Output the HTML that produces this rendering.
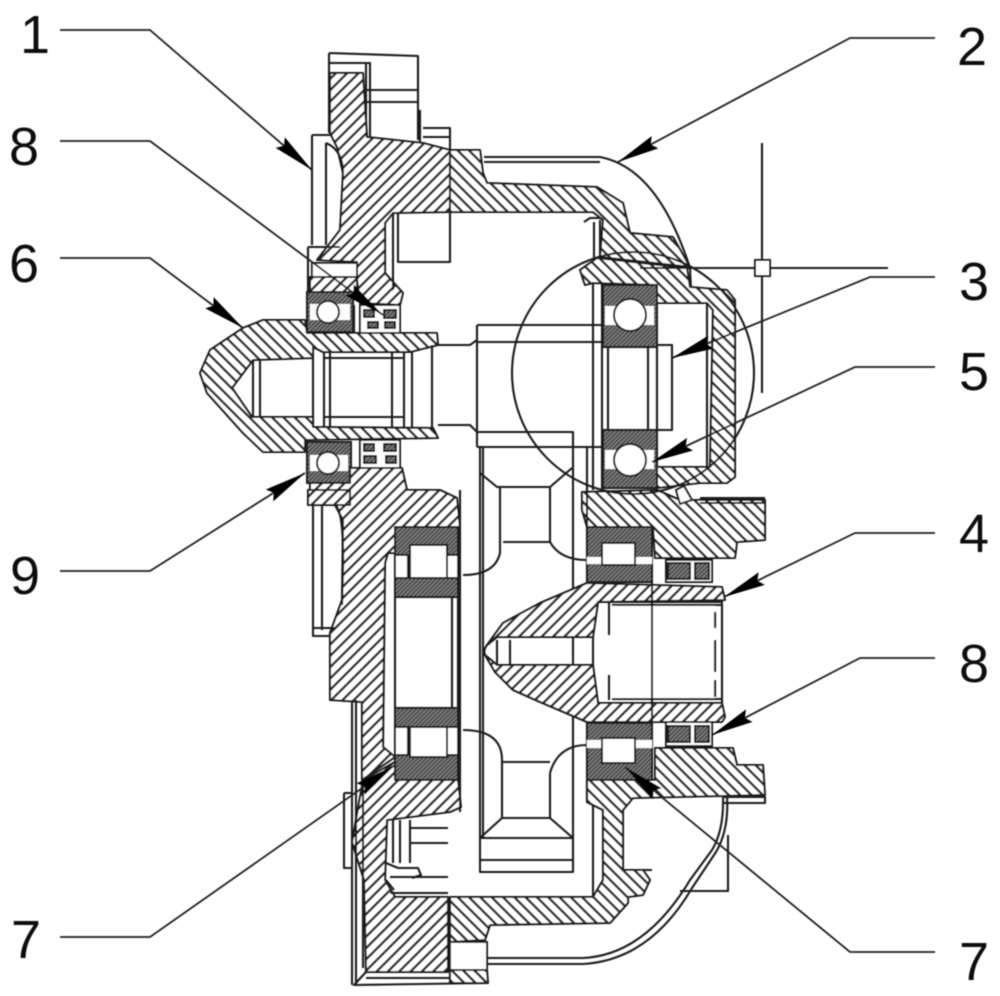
<!DOCTYPE html>
<html><head><meta charset="utf-8"><style>
html,body{margin:0;padding:0;background:#fff}
svg{display:block}
text{font-family:"Liberation Sans",sans-serif;font-size:54px;fill:#111}
.o{fill:none;stroke:#1c1c1c;stroke-width:2.1;stroke-linejoin:round}
.a{fill:url(#ha);stroke:#1c1c1c;stroke-width:2.1;stroke-linejoin:round}
.b{fill:url(#hb);stroke:#1c1c1c;stroke-width:2.1;stroke-linejoin:round}
.d{fill:url(#hd);stroke:#1c1c1c;stroke-width:2}
.w{fill:#fff;stroke:#1c1c1c;stroke-width:2}
.n{fill:#fff;stroke:none}
.l{fill:none;stroke:#222;stroke-width:1.8;marker-end:url(#ar)}
</style></head><body>
<svg width="1000" height="996" viewBox="0 0 1000 996" xmlns="http://www.w3.org/2000/svg">
<defs>
<pattern id="ha" width="8" height="8" patternUnits="userSpaceOnUse" patternTransform="rotate(45)"><rect width="8" height="8" fill="#fff"/><rect width="2.5" height="8" fill="#2a2a2a"/></pattern>
<pattern id="hb" width="8" height="8" patternUnits="userSpaceOnUse" patternTransform="rotate(-45)"><rect width="8" height="8" fill="#fff"/><rect width="2.5" height="8" fill="#2a2a2a"/></pattern>
<pattern id="hd" width="3" height="3" patternUnits="userSpaceOnUse" patternTransform="rotate(45)"><rect width="3" height="3" fill="#808080"/><rect width="1.4" height="3" fill="#3c3c3c"/></pattern>
<marker id="ar" markerUnits="userSpaceOnUse" markerWidth="46" markerHeight="20" refX="42" refY="10" orient="auto"><path d="M0,3 L42,10 L0,17 L5,10 Z" fill="#000"/></marker>
<filter id="bl" x="0" y="0" width="100%" height="100%"><feGaussianBlur stdDeviation="0.45"/></filter>
</defs>
<rect width="1000" height="996" fill="#fff"/>
<g filter="url(#bl)">
<!-- top box -->
<path class="o" d="M329,53 L418,56 L418,140 M329,53 L329,133 M329,63 L370,63 L370,137 M366,63 V137 M367,90 H418 M367,102 H418 M420,110 V143 M423,128 H450 V150 M423,137 H450"/>
<!-- upper housing -->
<path class="a" d="M330,73 L363,73 L367,137 L423,143 L450,150 L450,212 L393,213 L385,223 L385,273 L403,293 L400,305 L360,303 L357,280 L357,262 L317,260 L340,230 L343,173 L337,147 L330,133 Z"/>
<path class="o" d="M312,135 H330 M312,135 V245 M326,143 V245 M326,143 Q343,150 343,173 M393,213 V290 M398,213 V262 H450 V212 M308,247 H340 M308,247 V292"/>
<rect class="w" x="312" y="263" width="45" height="14"/>
<path class="a" d="M310,277 H357 V292 H310 Z"/>
<!-- upper band -->
<path class="b" d="M450,150 L480,150 L483,173 L487,183 L597,187 L623,203 L630,233 L673,237 L690,267 L600,257 L603,220 L593,212 L450,212 Z"/>
<path class="o" d="M484,157 H600 Q658,168 690,268 L691,290 M484,162 H600 M584,222 L590,218 H600 M594,222 V258 M600,220 V258"/>
<!-- bearing cap -->
<path class="b" d="M580,270 L597,258 L687,268 L690,287 L727,290 L735,300 L735,477 L727,483 L700,483 L657,488 L657,467 L710,467 L713,310 L707,303 L657,303 L657,285 L593,283 L585,285 Z"/>
<path class="o" d="M707,303 V467 M642,303 H707 M651,345 H672 V430 H651"/>
<!-- right upper flange -->
<path class="b" d="M582,492 L657,490 L680,500 L765,500 L765,540 L737,542 L735,558 L655,558 L653,527 L587,527 L582,510 Z"/>
<path class="w" d="M676,490 L684,486 L692,500 L680,504 Z"/>
<path class="o" d="M700,498 H765 M700,503 H765"/>
<!-- shaft 6 -->
<path class="b" d="M243,328 L263,320 L305,320 L307,333 L437,333 L438,345 L410,352 L323,352 L313,347 L313,358 L253,360 L232,388 L252,417 L313,417 L313,427 L433,428 L438,438 L305,440 L305,452 L263,452 L243,433 L207,393 L200,373 L210,350 Z"/>
<path class="o" d="M253,360 V417 M260,360 V417 M313,358 V427 M324,352 V428 M330,352 V428 M392,352 V428 M404,352 V428 M412,352 V428 M432,345 V428 M323,358 H404 M323,417 H404 M438,345 H470 L477,340 M438,425 H470 L477,432"/>
<!-- left bearings -->
<rect class="d" x="307" y="292" width="46" height="40"/><rect class="n" x="310" y="304" width="40" height="16"/><circle class="w" cx="328" cy="312" r="11"/>
<rect class="d" x="307" y="442" width="44" height="41"/><rect class="n" x="310" y="455" width="38" height="16"/><circle class="w" cx="328" cy="463" r="11"/>
<!-- seals -->
<rect class="w" x="360" y="305" width="40" height="28"/><rect class="d" x="364" y="310" width="10" height="7"/><rect class="d" x="384" y="310" width="12" height="8"/><rect class="d" x="368" y="322" width="10" height="6"/><rect class="d" x="385" y="322" width="10" height="6"/><path class="o" d="M354,305 V333"/>
<rect class="w" x="360" y="440" width="40" height="28"/><rect class="d" x="364" y="444" width="10" height="7"/><rect class="d" x="384" y="444" width="12" height="7"/><rect class="d" x="364" y="456" width="12" height="7"/><rect class="d" x="386" y="456" width="10" height="7"/>
<!-- lower left housing -->
<path class="a" d="M350,468 L402,468 L407,490 L440,490 L457,498 L460,527 L395,527 L395,553 L388,553 L385,563 L383,747 L395,757 L362,780 L362,702 L330,700 L330,633 L342,600 L343,520 L335,505 L310,505 L310,483 L350,483 Z"/>
<path class="a" d="M308,490 H350 V505 H308 Z"/>
<path class="o" d="M313,505 V636 H330 M322,505 V630 M313,628 H336 M336,505 Q344,515 343,570 L342,605"/>
<!-- lower housing -->
<path class="a" d="M363,780 L395,762 L395,780 L458,780 L461,807 L450,812 L387,820 L385,880 L395,897 L448,897 L448,972 L366,972 L364,880 L352,842 Z"/>
<!-- right lower flange -->
<path class="b" d="M587,780 L655,780 L655,748 L733,748 L737,765 L763,765 L765,795 L633,798 L623,810 L623,870 L643,870 L650,880 L643,895 L628,897 L628,903 L610,923 L490,925 L485,940 L450,942 L450,897 L593,897 L603,880 L603,810 L587,802 Z"/>
<path class="o" d="M724,797 H765 V803 H724 M628,870 H652 M593,805 V897 M393,820 V863 M400,820 V863 M410,820 V863 M410,828 H448 M410,843 H448 M390,877 H448 M390,893 H448 M386,863 L398,868 H418 L421,875 L412,878 M386,880 L394,890"/>
<!-- bottom -->
<rect class="w" x="450" y="942" width="37" height="28"/>
<path class="b" d="M450,970 H487 L488,983 H450 Z"/>
<path class="o" d="M366,972 L354,985 L488,983 M366,978 H450 M352,700 V985 M356,700 V985 M363,780 V968 M344,793 H352 M344,793 V868 H352"/>
<path class="o" d="M487,958 H583 Q645,955 690,880 L712,850 Q724,830 723,797 M487,964 H583 Q650,960 692,888 L716,852 Q729,830 727,797"/>
<path class="o" d="M728,835 V891 H680"/>
<!-- central gear -->
<path class="o" d="M477,325 H603 M477,342 H603 M477,325 V447 M477,432 H573 V470 M477,447 H603 M480,447 V872 H573 V470 M483,447 V838 M460,490 V812 M480,473 L497,487 H550 L572,468 M500,487 V553 Q495,575 463,575 M503,542 H550 M550,487 V542 Q560,560 587,560 M463,730 Q502,730 502,760 V818 L480,838 M503,762 H550 M503,818 H550 M550,773 Q558,745 587,745 M550,773 V818 L573,838 M480,838 H573 M480,860 H573 M587,447 V590 M587,720 V800"/>
<!-- big bearings -->
<path class="o" d="M593,283 V490 M602,283 V490 M608,347 V430 M648,347 V430 M657,347 V430"/>
<rect class="d" x="603" y="285" width="54" height="62"/><rect class="n" x="605" y="306" width="49" height="19"/><circle class="w" cx="630" cy="315" r="16"/>
<rect class="d" x="603" y="430" width="54" height="58"/><rect class="n" x="605" y="450" width="49" height="19"/><circle class="w" cx="630" cy="460" r="16"/>
<!-- lower left roller bearings -->
<rect class="d" x="395" y="527" width="63" height="70"/>
<rect class="w" x="395" y="555" width="63" height="23"/><rect class="w" x="410" y="545" width="37" height="33"/>
<rect class="d" x="395" y="708" width="63" height="72"/>
<rect class="w" x="395" y="727" width="63" height="28"/><rect class="w" x="410" y="727" width="37" height="30"/>
<path class="o" d="M395,597 V708 M452,597 V708 M458,597 V708 M408,555 V578 M408,727 V755"/>
<!-- right roller bearings -->
<rect class="d" x="587" y="527" width="65" height="55"/>
<rect class="n" x="587" y="557" width="65" height="7"/><rect class="w" x="602" y="543" width="33" height="22"/>
<rect class="d" x="587" y="723" width="65" height="57"/>
<rect class="n" x="587" y="740" width="65" height="8"/><rect class="w" x="602" y="738" width="33" height="25"/>
<!-- output shaft -->
<path class="a" d="M587,583 L722,587 L725,600 L598,602 L593,637 L497,637 L487,645 L503,623 L540,603 Z"/>
<path class="a" d="M497,665 L593,665 L598,703 L722,703 L725,717 L722,722 L587,722 L540,702 L513,690 L495,672 L485,655 Z"/>
<path class="o" d="M487,645 Q483,650 485,655 L497,665 M497,640 V665 M510,640 V665 M597,602 H722 V703 H597 M593,637 V665 M652,582 V723"/>
<path class="n" d="M612,605 H715 V699 H612 Z"/>
<path class="o" d="M609,602 V635 M609,675 V700 M715,612 V628 M715,640 V672 M715,680 V697 M652,600 V705 M612,605 H722 M612,699 H722"/>
<!-- seals right -->
<rect class="w" x="666" y="560" width="46" height="22"/><rect class="d" x="668" y="563" width="22" height="16"/><rect class="d" x="695" y="563" width="14" height="16"/>
<rect class="w" x="666" y="722" width="46" height="24"/><rect class="d" x="668" y="726" width="22" height="16"/><rect class="d" x="695" y="726" width="14" height="16"/>
<!-- circle and crosshair -->
<circle class="o" cx="633" cy="373" r="121"/>
<path class="o" d="M762,143 V393 M640,268 H888"/>
<rect class="w" x="755" y="260" width="15" height="16"/>
<!-- leaders -->
<path class="l" d="M60,30 H150 L312,170"/>
<path class="l" d="M60,141 H150 L383,315"/>
<path class="l" d="M60,258 H150 L243,328"/>
<path class="l" d="M60,571 H150 L305,473"/>
<path class="l" d="M60,937 H150 L395,765"/>
<path class="l" d="M935,38 H850 L618,162"/>
<path class="l" d="M935,277 H870 L672,358"/>
<path class="l" d="M935,367 H855 L652,462"/>
<path class="l" d="M935,533 H855 L724,597"/>
<path class="l" d="M935,658 H860 L712,735"/>
<path class="l" d="M935,952 H850 L625,767"/>
<!-- labels -->
<text x="20" y="53">1</text>
<text x="9" y="165">8</text>
<text x="9" y="282">6</text>
<text x="10" y="594">9</text>
<text x="11" y="958">7</text>
<text x="957" y="65">2</text>
<text x="959" y="300">3</text>
<text x="959" y="390">5</text>
<text x="959" y="552">4</text>
<text x="959" y="682">8</text>
<text x="959" y="980">7</text>
</g>
</svg>
</body></html>
